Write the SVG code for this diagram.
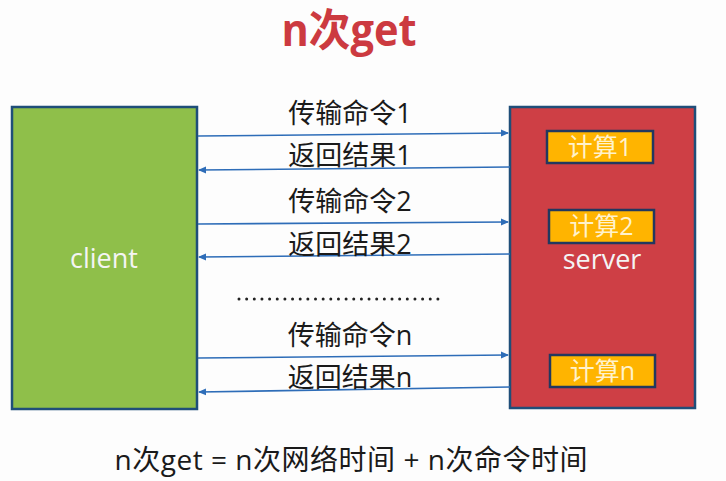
<svg xmlns="http://www.w3.org/2000/svg" width="726" height="481" viewBox="0 0 726 481">
<defs>
<marker id="ah" markerWidth="8" markerHeight="8" refX="7" refY="4" orient="auto" markerUnits="userSpaceOnUse">
<path d="M0,0.5 L8,4 L0,7.5 Z" fill="#2E6DB8"/>
</marker>
<style>
.lbl{font-family:"Open Sans","Noto Sans CJK SC",sans-serif;font-size:27px;fill:#1a1a1a;text-anchor:middle}
.calc{fill:#FFB400;stroke:#22385F;stroke-width:2.5}
.calct{font-family:"Open Sans","Noto Sans CJK SC",sans-serif;font-size:25px;fill:#FFF2CC;text-anchor:middle}
.big{stroke:#1F4E79;stroke-width:2.5}
.name{font-family:"Open Sans","Noto Sans CJK SC",sans-serif;font-size:27px;fill:#F4F4F4;text-anchor:middle}
.conn line{stroke:#2E6DB8;stroke-width:1.6;marker-end:url(#ah)}
</style>
</defs>
<rect width="726" height="481" fill="#FDFDFD"/>
<text x="349" y="46" font-family="'Open Sans','Noto Sans CJK SC',sans-serif" font-size="44" font-weight="bold" fill="#CC3A40" text-anchor="middle" textLength="135" lengthAdjust="spacingAndGlyphs">n次get</text>
<g id="client">
<rect class="big" x="12" y="107" width="185" height="302" fill="#8FBF4A"/>
<text class="name" x="104" y="268">client</text>
</g>
<g id="server">
<rect class="big" x="510" y="107" width="185" height="301" fill="#CE3F45"/>
<text class="name" x="602" y="269">server</text>
</g>
<g id="calc1">
<rect class="calc" x="547" y="131" width="106" height="32"/>
<text class="calct" x="600" y="156">计算1</text>
</g>
<g id="calc2">
<rect class="calc" x="549" y="210" width="105" height="33"/>
<text class="calct" x="601.5" y="235">计算2</text>
</g>
<g id="calcn">
<rect class="calc" x="550" y="355" width="105" height="32"/>
<text class="calct" x="602.5" y="380">计算n</text>
</g>
<g class="conn">
<line x1="198" y1="136" x2="508" y2="133"/>
<line x1="510" y1="167" x2="199" y2="170"/>
<line x1="198" y1="224" x2="508" y2="222"/>
<line x1="510" y1="254" x2="199" y2="257"/>
<line x1="198" y1="358" x2="508" y2="355"/>
<line x1="510" y1="387" x2="199" y2="392"/>
</g>
<g id="labels">
<text class="lbl" x="350" y="123">传输命令1</text>
<text class="lbl" x="350" y="165">返回结果1</text>
<text class="lbl" x="350" y="211">传输命令2</text>
<text class="lbl" x="350" y="254">返回结果2</text>
<text class="lbl" x="350" y="345">传输命令n</text>
<text class="lbl" x="350" y="387">返回结果n</text>
</g>
<line x1="239" y1="299" x2="438" y2="299" stroke="#222" stroke-width="3" stroke-linecap="round" stroke-dasharray="0 7.65"/>
<text x="351" y="470" font-family="'Open Sans','Noto Sans CJK SC',sans-serif" font-size="28" fill="#1a1a1a" text-anchor="middle" textLength="473" lengthAdjust="spacing">n次get = n次网络时间 + n次命令时间</text>
</svg>
